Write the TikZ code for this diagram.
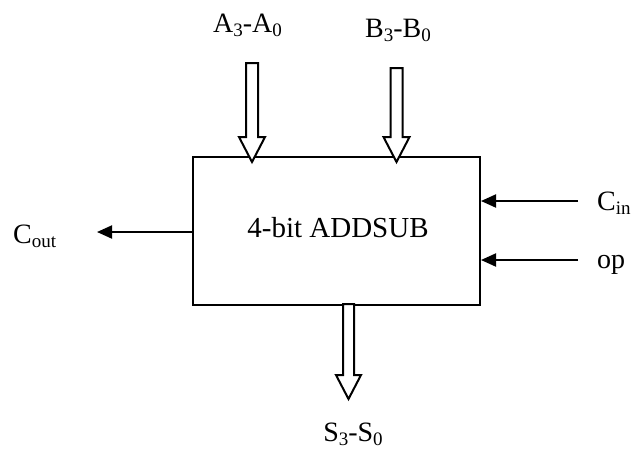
\documentclass[tikz,border=0pt]{standalone}
\usepackage{fontspec}
\setmainfont{Liberation Serif}
\usetikzlibrary{arrows.meta}
\newcommand{\lsub}[1]{\raisebox{-4pt}{\fontsize{19}{21}\selectfont #1}}
\begin{document}
\begin{tikzpicture}[x=1pt,y=-1pt,
  sig/.style={line width=2pt,-{Triangle[length=15pt,width=13pt]}},
  bus/.style={draw,line width=2pt,fill=white,line join=miter},
  lbl/.style={font=\fontsize{28}{32}\selectfont,inner sep=0pt}]
\useasboundingbox (0,0) rectangle (634,448);
\node[draw,line width=2pt,minimum width=287pt,minimum height=148pt,inner sep=0pt] (box) at (336.5,230.5) {};
\node[font=\fontsize{29}{34}\selectfont,inner sep=0pt,anchor=base] (title) at (338,237) {4-bit ADDSUB};
% bus arrows
\coordinate (at) at (252,162);
\coordinate (bt) at (396.5,162);
\draw[bus] (at) -- ++(-13,-25) -- ++(7,0) -- ++(0,-74) -- ++(12,0) -- ++(0,74) -- ++(7,0) -- cycle;
\draw[bus] (bt) -- ++(-13,-25) -- ++(7,0) -- ++(0,-69) -- ++(12,0) -- ++(0,69) -- ++(7,0) -- cycle;
\coordinate (st) at (348.5,399);
\draw[bus] (st) -- ++(-12.5,-24) -- ++(7,0) -- ++(0,-71) -- ++(11,0) -- ++(0,71) -- ++(7,0) -- cycle;
\node[lbl,anchor=base] (a) at (247.5,32) {A\lsub{3}-A\lsub{0}};
\node[lbl,anchor=base] (b) at (398,37) {B\lsub{3}-B\lsub{0}};
\node[lbl,anchor=base] (s) at (353,441) {S\lsub{3}-S\lsub{0}};
\node[lbl,anchor=base west] (cout) at (13,243) {C\lsub{out}};
\node[lbl,anchor=base west] (cin) at (597,210) {C\lsub{in}};
\node[lbl,anchor=base west] (op) at (597,268) {op};
\coordinate (coutend) at (97,232);
\coordinate (cinstart) at (578,201);
\coordinate (opstart) at (578,260);
\draw[sig] (box.west |- coutend) -- (coutend);
\draw[sig] (cinstart) -- (box.east |- cinstart);
\draw[sig] (opstart) -- (box.east |- opstart);
\end{tikzpicture}
\end{document}
